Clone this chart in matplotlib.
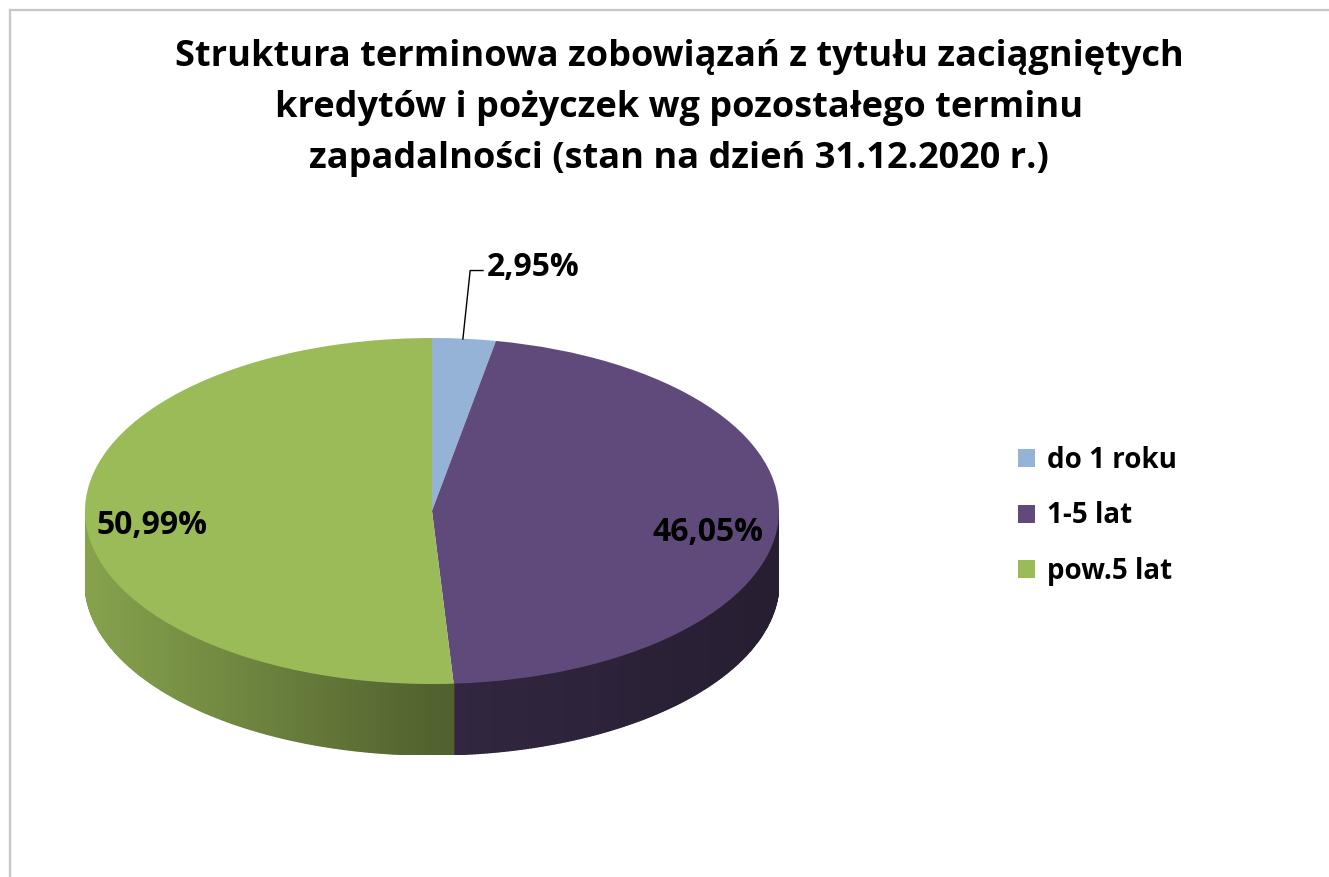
import numpy as np
import matplotlib
matplotlib.use("Agg")
import matplotlib.pyplot as plt
from matplotlib.patches import Polygon, Patch
from matplotlib.lines import Line2D

# ---- data ----
categories = ["do 1 roku", "1-5 lat", "pow.5 lat"]
values = [2.95, 46.05, 50.99]
colors = ["#95b3d7", "#604a7b", "#9bbb59"]
title = ("Struktura terminowa zobowiązań z tytułu zaciągniętych\n"
         "kredytów i pożyczek wg pozostałego terminu\n"
         "zapadalności (stan na dzień 31.12.2020 r.)")

plt.rcParams['font.family'] = ['Open Sans', 'DejaVu Sans']
plt.rcParams['font.weight'] = 'bold'

W, H = 1329, 877
fig = plt.figure(figsize=(W / 100, H / 100), dpi=100)
fig.patch.set_facecolor("white")

# border (top and left)
fig.add_artist(Line2D([10 / W, 1.0], [1 - 10 / H, 1 - 10 / H], color="#c6c6c6", lw=1.6))
fig.add_artist(Line2D([10 / W, 10 / W], [1 - 10 / H, 0.0], color="#c6c6c6", lw=1.6))

# pie geometry in pixels
cx, rx = 432, 347
top_y, bot_y, depth_px = 338, 684, 71
ry = (bot_y - top_y) / 2
d = depth_px / ry

ax = fig.add_axes([(cx - rx) / W, (H - (bot_y + depth_px)) / H,
                   2 * rx / W, (bot_y + depth_px - top_y) / H])
wedges, _ = ax.pie(values, colors=colors, startangle=90, counterclock=False,
                   radius=1, center=(0, 0), wedgeprops=dict(linewidth=0))
ax.set_aspect('auto')
ax.set_xlim(-1, 1)
ax.set_ylim(-1 - d, 1)
ax.axis('off')


def shade(x):
    return np.interp(x, [-1.0, 0.0, 1.0], [0.87, 0.53, 0.40])


# side walls of visible (front) part
for w, col in zip(wedges, colors):
    base = np.array(matplotlib.colors.to_rgb(col))
    t1, t2 = w.theta1, w.theta2
    n = max(int(abs(t2 - t1) * 2), 2)
    angs = np.linspace(t1, t2, n + 1)
    for a0, a1 in zip(angs[:-1], angs[1:]):
        am = np.deg2rad((a0 + a1) / 2)
        if np.sin(am) >= 0:
            continue
        r0, r1 = np.deg2rad(a0), np.deg2rad(a1)
        x0, y0 = np.cos(r0), np.sin(r0)
        x1, y1 = np.cos(r1), np.sin(r1)
        c = np.clip(base * shade(np.cos(am)), 0, 1)
        ax.add_patch(Polygon([(x0, y0), (x1, y1), (x1, y1 - d), (x0, y0 - d)],
                             closed=True, facecolor=c, edgecolor=c, lw=1.0,
                             zorder=0.5))

# data labels
labels = [f"{v:.2f}%".replace(".", ",") for v in values]
ax.text(0.159, 1.405, labels[0], ha='left', va='center', fontsize=23,
        fontweight='bold', clip_on=False)
ax.plot([0.089, 0.110, 0.147], [0.994, 1.39, 1.39], color="black", lw=1,
        clip_on=False)
ax.text(0.795, -0.127, labels[1], ha='center', va='center', fontsize=23,
        fontweight='bold', clip_on=False)
ax.text(-0.807, -0.081, labels[2], ha='center', va='center', fontsize=23,
        fontweight='bold', clip_on=False)

# title
fig.text(679 / W, 1 - 108 / H, title, ha='center', va='center', fontsize=26,
         fontweight='bold', linespacing=1.55)

# legend
handles = [Patch(facecolor=c, edgecolor='none') for c in colors]
fig.legend(handles, categories, loc='center left',
           bbox_to_anchor=(1018 / W, 1 - 516 / H), frameon=False,
           handlelength=0.62, handleheight=0.62,
           handletextpad=0.42, labelspacing=0.95, borderpad=0,
           borderaxespad=0, prop={'weight': 'bold', 'size': 20})

fig.savefig("out.png", dpi=100, facecolor="white")
